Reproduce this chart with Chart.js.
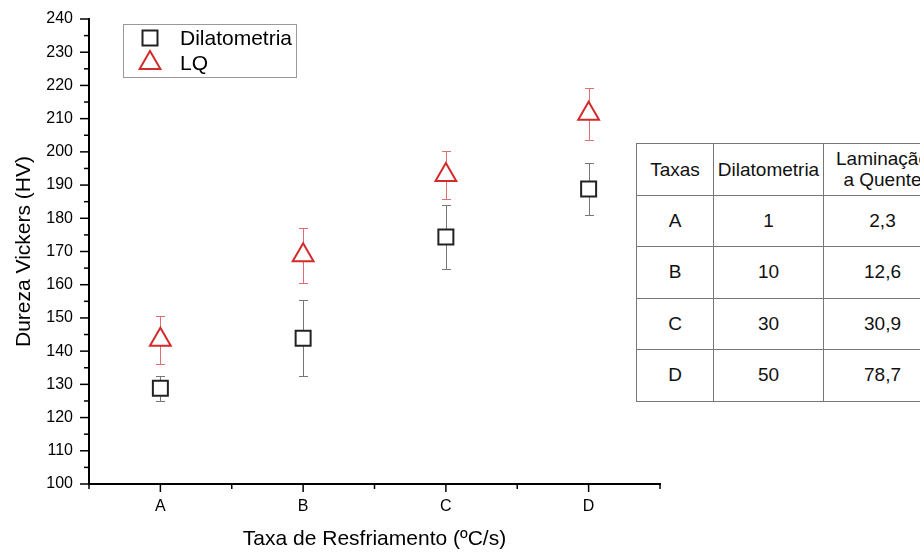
<!DOCTYPE html>
<html>
<head>
<meta charset="utf-8">
<script src="https://cdn.jsdelivr.net/npm/chart.js@4"></script>
<style>
  html, body { margin: 0; padding: 0; background: #fff; overflow: hidden; }
  #wrap { position: relative; width: 920px; height: 552px; overflow: hidden; }
  #hardness { position: absolute; left: 0; top: 0; }
  #rates {
    position: absolute; left: 636px; top: 143px; width: 305px; table-layout: fixed;
    border-collapse: collapse; background: #fff;
    font-family: "Liberation Sans", Arial, sans-serif; font-size: 19px; color: #111;
  }
  #rates td { border: 1px solid #777; text-align: center; padding: 0; height: 51.5px; box-sizing: border-box; white-space: nowrap; }
  #rates tr.head td { line-height: 21px; }
</style>
</head>
<body>
<div id="wrap">
  <canvas id="hardness" width="920" height="552"></canvas>
  <table id="rates"></table>
</div>
<script>
// Hardness by cooling rate

const categories = ['A', 'B', 'C', 'D'];
const dilValues = [128.8, 143.9, 174.4, 188.8]; // Dilatometria
const dilErrors = [3.8, 11.4, 9.7, 7.9];
const lqValues = [143.4, 168.9, 193.0, 211.5];  // LQ
const lqErrors = [7.3, 8.3, 7.3, 7.8];
const yMin = 100, yMax = 240, yStep = 10;

// table of rates (ºC/s)
const tableHeader = ['Taxas', 'Dilatometria', 'Laminação<br>a Quente'];
const dilRates = ['1', '10', '30', '50'];
const lqRates = ['2,3', '12,6', '30,9', '78,7'];

const FONT = '"Liberation Sans", Arial, sans-serif';

// build the little table on the right
const table = document.getElementById('rates');
const colWidths = [77, 110, 118];
let html = '<colgroup>' + colWidths.map(w => `<col style="width:${w}px">`).join('') + '</colgroup>';
html += '<tr class="head">' + tableHeader.map(h => `<td>${h}</td>`).join('') + '</tr>';
categories.forEach((c, i) => {
    html += `<tr><td>${c}</td><td>${dilRates[i]}</td><td>${lqRates[i]}</td></tr>`;
});
table.innerHTML = html;

// error bars, drawn under the markers
const errorBars = {
    id: 'errorBars',
    beforeDatasetsDraw(chart) {
        const { ctx, scales: { x, y } } = chart;
        const sets = [
            { vals: dilValues, errs: dilErrors, color: '#777' },
            { vals: lqValues, errs: lqErrors, color: '#e07070' }
        ];
        ctx.save();
        ctx.lineWidth = 1;
        sets.forEach(s => {
            ctx.strokeStyle = s.color;
            s.vals.forEach((v, i) => {
                const px = Math.round(x.getPixelForValue(i)) + 0.5;
                const top = Math.round(y.getPixelForValue(v + s.errs[i])) + 0.5;
                const bot = Math.round(y.getPixelForValue(v - s.errs[i])) + 0.5;
                ctx.beginPath();
                ctx.moveTo(px, top); ctx.lineTo(px, bot);
                ctx.moveTo(px - 4.5, top); ctx.lineTo(px + 4.5, top);
                ctx.moveTo(px - 4.5, bot); ctx.lineTo(px + 4.5, bot);
                ctx.stroke();
            });
        });
        ctx.restore();
    }
};

// major + minor ticks pointing outward
const axisTicks = {
    id: 'axisTicks',
    afterDraw(chart) {
        const { ctx, scales: { x, y } } = chart;
        ctx.save();
        ctx.strokeStyle = '#000';
        ctx.lineWidth = 1.5;
        for (let v = yMin; v <= yMax; v += yStep / 2) {
            const py = y.getPixelForValue(v);
            const len = v % yStep === 0 ? 9 : 5;
            ctx.beginPath(); ctx.moveTo(x.left, py); ctx.lineTo(x.left - len, py); ctx.stroke();
        }
        for (let v = -0.5; v <= categories.length - 0.5; v += 0.5) {
            const px = x.getPixelForValue(v);
            const len = Number.isInteger(v) ? 8 : 5;
            ctx.beginPath(); ctx.moveTo(px, y.bottom); ctx.lineTo(px, y.bottom + len); ctx.stroke();
        }
        ctx.restore();
    }
};

// boxed legend in the top left corner of the plot
const boxLegend = {
    id: 'boxLegend',
    afterDraw(chart) {
        const ctx = chart.ctx;
        ctx.save();
        ctx.strokeStyle = '#999';
        ctx.lineWidth = 1;
        ctx.strokeRect(123.5, 24.5, 173, 53);
        chart.data.datasets.forEach((ds, i) => {
            const cy = 38 + i * 25;
            ctx.fillStyle = '#fff';
            ctx.strokeStyle = ds.pointBorderColor;
            ctx.lineWidth = 2;
            Chart.helpers.drawPoint(ctx, { pointStyle: ds.pointStyle, radius: ds.pointRadius, borderWidth: 2, rotation: 0 }, 150, cy);
            ctx.fillStyle = '#000';
            ctx.font = '21px ' + FONT;
            ctx.textBaseline = 'middle';
            ctx.fillText(ds.label, 180, cy + 1);
        });
        ctx.restore();
    }
};

const ctxHardness = document.getElementById('hardness').getContext('2d');
const hardnessChart = new Chart(ctxHardness, {
    type: 'scatter',
    data: {
        datasets: [{
            label: 'Dilatometria',
            data: dilValues.map((v, i) => ({ x: i, y: v })),
            pointStyle: 'rect',
            pointRadius: 10.6,
            pointBorderWidth: 2,
            pointBorderColor: '#222',
            pointBackgroundColor: '#fff'
        }, {
            label: 'LQ',
            data: lqValues.map((v, i) => ({ x: i, y: v })),
            pointStyle: 'triangle',
            pointRadius: 12,
            pointBorderWidth: 2,
            pointBorderColor: '#d42a2a',
            pointBackgroundColor: '#fff'
        }]
    },
    options: {
        responsive: false,
        animation: false,
        events: [],
        layout: { padding: { top: 19, right: 260, bottom: 0, left: 0 } },
        plugins: { legend: { display: false }, tooltip: { enabled: false } },
        scales: {
            x: {
                type: 'linear',
                min: -0.5,
                max: categories.length - 0.5,
                afterBuildTicks: s => { s.ticks = categories.map((c, i) => ({ value: i })); },
                afterFit: s => { s.height = 68; s.paddingLeft = 0; s.paddingRight = 0; },
                grid: { display: false, drawTicks: false },
                border: { display: true, color: '#000', width: 2 },
                ticks: {
                    padding: 13,
                    color: '#000',
                    font: { family: FONT, size: 16 },
                    callback: v => categories[v]
                },
                title: {
                    display: true,
                    text: 'Taxa de Resfriamento (ºC/s)',
                    color: '#000',
                    font: { family: FONT, size: 21 },
                    padding: 0
                }
            },
            y: {
                min: yMin,
                max: yMax,
                afterFit: s => { s.width = 89; s.paddingTop = 0; s.paddingBottom = 0; },
                grid: { display: false, drawTicks: false },
                border: { display: true, color: '#000', width: 2 },
                ticks: {
                    stepSize: yStep,
                    padding: 16,
                    color: '#000',
                    font: { family: FONT, size: 16 }
                },
                title: {
                    display: true,
                    text: 'Dureza Vickers (HV)',
                    color: '#000',
                    font: { family: FONT, size: 21 },
                    padding: { top: 12, bottom: 0 }
                }
            }
        }
    },
    plugins: [errorBars, axisTicks, boxLegend]
});
</script>
</body>
</html>
